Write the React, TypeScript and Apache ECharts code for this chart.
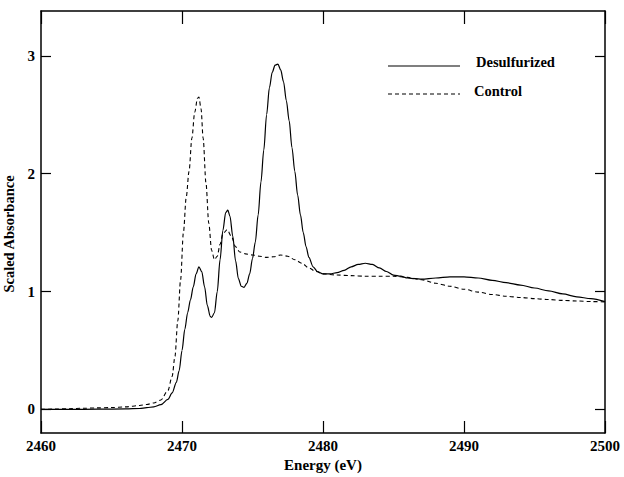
import React, { useEffect, useRef } from "react";
import * as echarts from "echarts";

const xTicks = [2460, 2470, 2480, 2490, 2500];
const yTicks = [0, 1, 2, 3];

const energyDesulfurized = [
  2460, 2462, 2464, 2466, 2467, 2467.5, 2468, 2468.5, 2469, 2469.3, 2469.6, 2469.8,
  2470.0, 2470.2, 2470.4, 2470.6, 2470.8, 2471.0, 2471.2, 2471.4, 2471.6, 2471.8,
  2472.0, 2472.1, 2472.3, 2472.5, 2472.7, 2472.9, 2473.1, 2473.25, 2473.4, 2473.6,
  2473.8, 2474.0, 2474.2, 2474.4, 2474.6, 2474.8, 2475.0, 2475.2, 2475.4, 2475.6,
  2475.8, 2476.0, 2476.2, 2476.4, 2476.6, 2476.8, 2477.0, 2477.2, 2477.4, 2477.6,
  2477.8, 2478.0, 2478.2, 2478.4, 2478.6, 2478.8, 2479.0, 2479.3, 2479.6, 2480,
  2480.5, 2481, 2481.5, 2482, 2482.5, 2483, 2483.5, 2484, 2484.5, 2485, 2485.5,
  2486, 2486.5, 2487, 2488, 2489, 2490, 2491, 2492, 2493, 2494, 2495, 2496, 2497,
  2498, 2499, 2500,
];
const desulfurized = [
  0, 0, 0.002, 0.004, 0.008, 0.015, 0.022, 0.04, 0.085, 0.14, 0.23, 0.33,
  0.5, 0.68, 0.82, 0.93, 1.04, 1.15, 1.21, 1.17, 1.04, 0.88,
  0.79, 0.78, 0.82, 1.0, 1.27, 1.52, 1.67, 1.69, 1.64, 1.47,
  1.26, 1.11, 1.045, 1.035, 1.07, 1.15, 1.28, 1.42, 1.65, 1.93,
  2.2, 2.5, 2.73, 2.86, 2.92, 2.93, 2.88, 2.78, 2.62, 2.45,
  2.22, 2.02, 1.82, 1.65, 1.5, 1.38, 1.29, 1.21, 1.17, 1.15,
  1.15, 1.16, 1.18, 1.21, 1.23, 1.24, 1.23, 1.2, 1.17, 1.14, 1.13,
  1.115, 1.11, 1.105, 1.115, 1.125, 1.125, 1.115, 1.095, 1.075, 1.055, 1.03, 1.005, 0.98,
  0.955, 0.94, 0.915,
];

const energyControl = [
  2460, 2461, 2462, 2463, 2464, 2465, 2466, 2467, 2467.5, 2468, 2468.5, 2469,
  2469.3, 2469.5, 2469.7, 2469.9, 2470.1, 2470.3, 2470.5, 2470.7, 2470.9, 2471.1,
  2471.2, 2471.35, 2471.5, 2471.7, 2471.9, 2472.1, 2472.3, 2472.5, 2472.7, 2472.9,
  2473.2, 2473.5, 2473.8, 2474.1, 2474.5, 2475, 2475.5, 2476, 2476.5, 2477, 2477.5,
  2478, 2478.5, 2479, 2479.5, 2480, 2481, 2482, 2483, 2484, 2485, 2486, 2487, 2488,
  2489, 2490, 2491, 2492, 2493, 2494, 2495, 2496, 2497, 2498, 2499, 2500,
];
const control = [
  0, 0.003, 0.006, 0.01, 0.013, 0.016, 0.022, 0.033, 0.042, 0.055, 0.08, 0.16,
  0.28, 0.45, 0.75, 1.1, 1.5, 1.8, 2.02, 2.3, 2.52, 2.64,
  2.65, 2.55, 2.3, 1.92, 1.58, 1.35, 1.27, 1.3, 1.4, 1.49,
  1.525, 1.47, 1.38, 1.335, 1.32, 1.31, 1.3, 1.29, 1.295, 1.31, 1.3,
  1.27, 1.24, 1.2, 1.17, 1.15, 1.14, 1.135, 1.13, 1.13, 1.13, 1.12, 1.1, 1.07,
  1.045, 1.02, 0.995, 0.975, 0.96, 0.95, 0.94, 0.932, 0.925, 0.92, 0.915, 0.912,
];

const FONT = '"Liberation Serif", "DejaVu Serif", serif';

export default function App() {
  const ref = useRef<HTMLDivElement>(null);
  useEffect(() => {
    document.body.style.margin = "0";
    const chart = echarts.init(ref.current!, null, { renderer: "svg" });
    const axisLine = { show: true, onZero: false, lineStyle: { color: "#000", width: 1.5 } };
    const labelStyle = { color: "#000", fontFamily: FONT, fontWeight: "bold" as const, fontSize: 15 };
    chart.setOption({
      animation: false,
      backgroundColor: "#fff",
      grid: { left: 41, right: 19, top: 11, bottom: 44, containLabel: false, outerBoundsMode: "none" },
      xAxis: [
        {
          type: "value",
          min: xTicks[0],
          max: xTicks[xTicks.length - 1],
          interval: 10,
          position: "bottom",
          axisLine,
          axisTick: { inside: true, length: 12, lineStyle: { color: "#000", width: 1.2 } },
          axisLabel: { ...labelStyle, margin: 5, formatter: (v: number) => String(v) },
          splitLine: { show: false },
          name: "Energy (eV)",
          nameLocation: "middle",
          nameGap: 16,
          nameTextStyle: { ...labelStyle, fontSize: 15 },
        },
        {
          type: "value",
          min: xTicks[0],
          max: xTicks[xTicks.length - 1],
          interval: 10,
          position: "top",
          axisLine,
          axisTick: { inside: true, length: 13, lineStyle: { color: "#000", width: 1.2 } },
          axisLabel: { show: false },
          splitLine: { show: false },
        },
      ],
      yAxis: [
        {
          type: "value",
          min: -0.2,
          max: 3.38,
          position: "left",
          axisLine,
          axisTick: { inside: true, length: 10, customValues: yTicks, lineStyle: { color: "#000", width: 1.2 } },
          axisLabel: { ...labelStyle, margin: 6, customValues: yTicks, formatter: (v: number) => String(v) },
          splitLine: { show: false },
          name: "Scaled Absorbance",
          nameLocation: "middle",
          nameGap: 25,
          nameTextStyle: { ...labelStyle, fontSize: 14.5, padding: [0, 24, 0, 0] },
        },
        {
          type: "value",
          min: -0.2,
          max: 3.38,
          position: "right",
          axisLine,
          axisTick: { inside: true, length: 10, customValues: yTicks, lineStyle: { color: "#000", width: 1.2 } },
          axisLabel: { show: false, customValues: yTicks },
          splitLine: { show: false },
        },
      ],
      series: [
        {
          name: "Desulfurized",
          type: "line",
          xAxisIndex: 0,
          yAxisIndex: 0,
          data: energyDesulfurized.map((e, i) => [e, desulfurized[i]]),
          showSymbol: false,
          symbol: "none",
          smooth: 0.3,
          smoothMonotone: "x",
          lineStyle: { color: "#000", width: 1.2 },
        },
        {
          name: "Control",
          type: "line",
          xAxisIndex: 0,
          yAxisIndex: 0,
          data: energyControl.map((e, i) => [e, control[i]]),
          showSymbol: false,
          symbol: "none",
          smooth: 0.3,
          smoothMonotone: "x",
          lineStyle: { color: "#000", width: 1.1, type: [4, 3] },
        },
      ],
      graphic: [
        { type: "line", shape: { x1: 388, y1: 66, x2: 460, y2: 66 }, style: { stroke: "#000", lineWidth: 1.2 } },
        {
          type: "text",
          x: 476,
          y: 62,
          style: { text: "Desulfurized", fill: "#000", fontFamily: FONT, fontWeight: "bold", fontSize: 14.5, verticalAlign: "middle" },
        },
        { type: "line", shape: { x1: 388, y1: 94, x2: 460, y2: 94 }, style: { stroke: "#000", lineWidth: 1.1, lineDash: [4, 3] } },
        {
          type: "text",
          x: 474,
          y: 91,
          style: { text: "Control", fill: "#000", fontFamily: FONT, fontWeight: "bold", fontSize: 14.5, verticalAlign: "middle" },
        },
      ],
    });
    return () => chart.dispose();
  }, []);
  return <div ref={ref} style={{ width: 624, height: 477 }} />;
}
